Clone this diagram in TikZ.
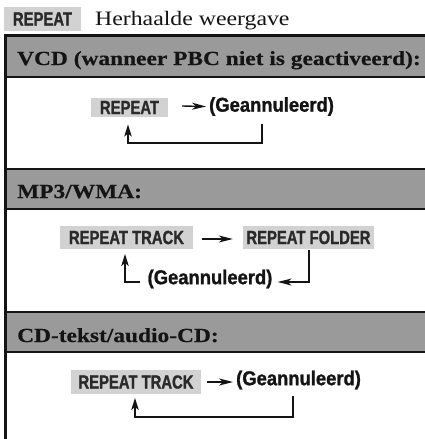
\documentclass[tikz,border=0pt]{standalone}
\usepackage{fontspec}
\setmainfont{Liberation Serif}
\newfontfamily\titlefont{Liberation Serif}[FakeStretch=1.16]
\newfontfamily\titleboldfont{Liberation Serif}[FakeStretch=1.17,FakeBold=0.5,UprightFont={* Bold}]
\newfontfamily\labelfont{Liberation Sans}[FakeStretch=0.78,FakeBold=1.2,UprightFont={* Bold}]
\newfontfamily\cancelfont{Liberation Sans}[FakeStretch=0.92,FakeBold=1.2,UprightFont={* Bold}]
\usetikzlibrary{arrows.meta,calc}
\definecolor{lblgray}{HTML}{D2D2D2}
\definecolor{bandgray}{HTML}{9A9A9A}
\definecolor{lbltext}{HTML}{2A2A2A}
\definecolor{inkcol}{HTML}{141414}
\tikzset{
  lbl/.style={fill=lblgray, text=lbltext, inner sep=0pt,
    font=\labelfont\fontsize{19}{19}\selectfont},
  cancel/.style={inner sep=0pt, text=inkcol,
    font=\cancelfont\fontsize{20}{20}\selectfont},
  title/.style={anchor=base west, inner sep=0pt, text=inkcol,
    font=\titleboldfont\fontsize{20}{20}\selectfont},
  band/.style={fill=bandgray},
  bandline/.style={draw=inkcol, line width=1.2pt},
  frame/.style={draw=inkcol, line width=2.6pt},
  arr/.style={draw=inkcol, line width=1.4pt, -{Stealth[length=14pt,width=7pt,inset=4pt]}},
  looparr/.style={draw=inkcol, line width=1.5pt, -{Stealth[length=12pt,width=7.5pt,inset=3pt]}}
}
\begin{document}
\begin{tikzpicture}[x=1pt,y=-1pt]
\fill[white] (0,0) rectangle (425,439);
\useasboundingbox (0,0) rectangle (425,439);
% header
\node[lbl, minimum width=77pt, minimum height=24pt] (hdr) at (42.5,19) {REPEAT};
\node[anchor=base west, inner sep=0pt, font=\titlefont\fontsize{20.5}{20.5}\selectfont, text=inkcol] (hdrtxt) at (95,25) {Herhaalde weergave};
% bands
\fill[band] (5,36) rectangle (425,77);
\draw[bandline] (5,77) -- (425,77);
\fill[band] (5,169) rectangle (425,209);
\draw[bandline] (5,169) -- (425,169);
\draw[bandline] (5,209) -- (425,209);
\fill[band] (5,312) rectangle (425,352);
\draw[bandline] (5,312) -- (425,312);
\draw[bandline] (5,352) -- (425,352);
% frame
\draw[frame] (5.3,439) -- (5.3,35.5) -- (425,35.5);
% titles
\node[title] (t1) at (17,65) {VCD (wanneer PBC niet is geactiveerd):};
\node[title] (t2) at (17,198) {MP3/WMA:};
\node[title] (t3) at (17,342) {CD-tekst/audio-CD:};
% VCD
\node[lbl, minimum width=77pt, minimum height=19pt] (r1) at (129.5,107.5) {REPEAT};
\node[cancel, anchor=west] (g1) at (209,106.5) {(Geannuleerd)};
\draw[arr] ($(r1.east)+(14,-1.5)$) -- ($(g1.west)+(-3,0)$);
\coordinate (l1a) at (262,124);
\coordinate (l1b) at (128,124.5);
\draw[looparr] (l1a) -- ++(0,19) -| (l1b);
% MP3
\node[lbl, minimum width=133pt, minimum height=23pt] (r2) at (126.5,237.5) {REPEAT TRACK};
\node[lbl, minimum width=131pt, minimum height=23pt] (r3) at (308.5,237.5) {REPEAT FOLDER};
\draw[arr] ($(r2.east)+(9,1.5)$) -- ($(r3.west)+(-10,1.5)$);
\node[cancel] (g2) at (210,279) {(Geannuleerd)};
\coordinate (l2a) at (309,250);
\coordinate (l2b) at (125,254);
\draw[arr] (l2a) |- ($(g2.east)+(5,3)$);
\draw[looparr] ($(g2.west)+(-7,3)$) -| (l2b);
% CD
\node[lbl, minimum width=130pt, minimum height=24pt] (r4) at (136,382) {REPEAT TRACK};
\node[cancel, anchor=west] (g3) at (236,380) {(Geannuleerd)};
\draw[arr] ($(r4.east)+(6,0)$) -- ($(g3.west)+(-3,2)$);
\coordinate (l3a) at (293,396);
\coordinate (l3b) at (135,398);
\draw[looparr] (l3a) -- ++(0,21) -| (l3b);
\end{tikzpicture}
\end{document}
